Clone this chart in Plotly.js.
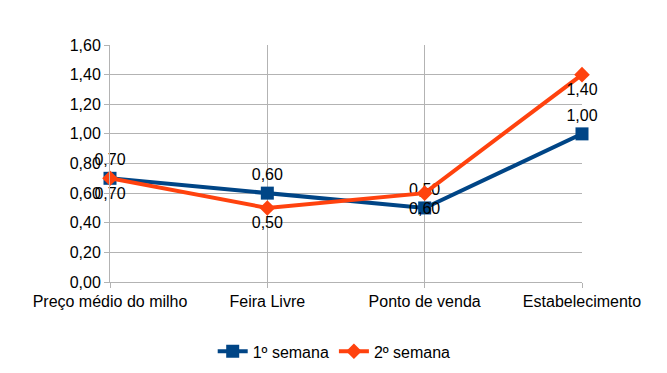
<!DOCTYPE html>
<html><head><meta charset="utf-8">
<script src="https://cdn.plot.ly/plotly-3.0.1.min.js"></script>
<style>body{margin:0;background:#fff}#c{width:667px;height:373px}</style>
</head><body><div id="c"></div>
<script>
var categories = ["Preço médio do milho", "Feira Livre", "Ponto de venda", "Estabelecimento"];
var semana1 = [0.70, 0.60, 0.50, 1.00];
var semana2 = [0.70, 0.50, 0.60, 1.40];
var seriesNames = ["1º semana", "2º semana"];
function fmt(v){ return v.toFixed(2).replace('.', ','); }
var font = {family: "Liberation Sans, Arial, sans-serif", size: 16, color: "#000"};
var traces = [
  {x: categories, y: semana1, name: seriesNames[0], type: "scatter", mode: "lines+markers+text",
   line: {color: "#004586", width: 4}, marker: {symbol: "square", size: 13, color: "#004586"},
   text: semana1.map(fmt), textposition: "top center", textfont: font, cliponaxis: false},
  {x: categories, y: semana2, name: seriesNames[1], type: "scatter", mode: "lines+markers+text",
   line: {color: "#ff420e", width: 4}, marker: {symbol: "diamond", size: 12, color: "#ff420e"},
   text: semana2.map(fmt), textposition: "bottom center", textfont: font, cliponaxis: false}
];
var layout = {
  width: 667, height: 373,
  margin: {l: 110, r: 85, t: 45, b: 91, autoexpand: false},
  separators: ",.",
  paper_bgcolor: "#fff", plot_bgcolor: "#fff",
  font: font,
  showlegend: true,
  legend: {orientation: "h", x: 0.475, xanchor: "center", yref: "container", y: 0.058, yanchor: "middle", font: font},
  xaxis: {type: "category", range: [0, 3], showgrid: true, gridcolor: "#b3b3b3", gridwidth: 1,
          showline: true, linecolor: "#b3b3b3", ticks: "outside", ticklen: 5, tickcolor: "#b3b3b3",
          tickfont: font, zeroline: false, fixedrange: true, automargin: false},
  yaxis: {range: [0, 1.6], dtick: 0.2, tickformat: ".2f", showgrid: true, gridcolor: "#b3b3b3",
          showline: true, linecolor: "#b3b3b3", ticks: "outside", ticklen: 5, tickcolor: "#b3b3b3",
          tickfont: font, zeroline: false, automargin: false}
};
Plotly.newPlot("c", traces, layout, {staticPlot: true});
</script></body></html>
